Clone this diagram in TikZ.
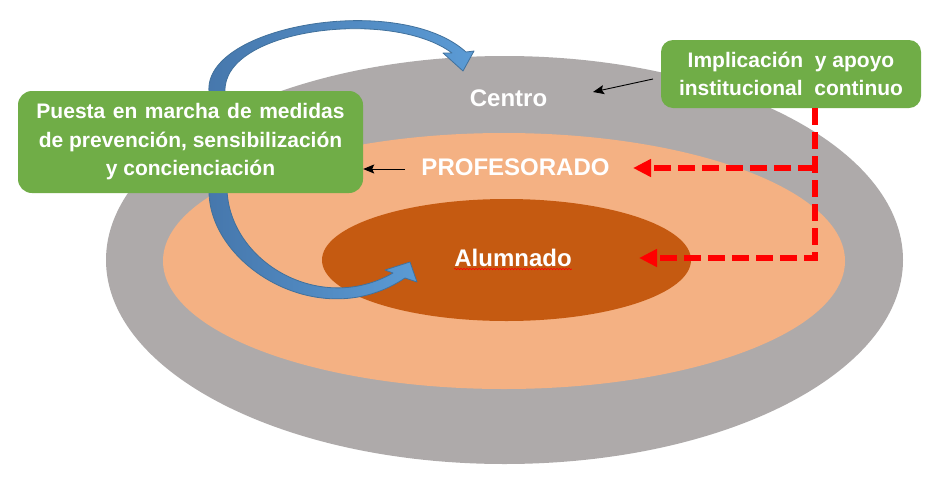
\documentclass[tikz,border=0pt]{standalone}
\usepackage{fontspec}
\setmainfont{Liberation Sans}
\usetikzlibrary{arrows.meta,decorations.pathmorphing}
\definecolor{grayE}{HTML}{AEAAAA}
\definecolor{peach}{HTML}{F4B183}
\definecolor{burnt}{HTML}{C55A11}
\definecolor{boxgreen}{HTML}{70AD47}
\definecolor{bluedark}{HTML}{4677AC}
\definecolor{bluelight}{HTML}{5B9BD5}
\definecolor{blueedge}{HTML}{41719C}
\definecolor{dashred}{HTML}{FF0000}
\begin{document}
\begin{tikzpicture}[x=1pt,y=-1pt,
  greenbox/.style={fill=boxgreen, rounded corners=14pt, text=white, align=center, inner sep=0pt,
    font=\fontsize{21}{28.5}\selectfont\bfseries},
  lbl/.style={text=white, inner sep=0pt, anchor=base, font=\fontsize{24}{28}\selectfont\bfseries},
  bluearrow/.style={left color=bluedark, middle color=bluedark, right color=bluelight, draw=blueedge, line width=0.8pt, line join=round},
  thinarrow/.style={draw=black, line width=0.9pt, -{Stealth[length=11pt,width=9pt,inset=2pt]}},
  reddash/.style={draw=dashred, line width=5.5pt, dash pattern=on 17pt off 7pt, -{Triangle[length=18pt,width=17pt]}}
]
\useasboundingbox (0,0) rectangle (932,480);
\fill[white] (0,0) rectangle (932,480);
% rings
\fill[grayE] (504.5,260) ellipse [x radius=398.5pt, y radius=204pt];
\fill[peach] (504,261) ellipse [x radius=341pt, y radius=128pt];
\fill[burnt] (506.5,260) ellipse [x radius=184.5pt, y radius=61pt];
% curved arrows
\shade[bluearrow] (209,112) -- (209,92) .. controls (203,25) and (400,-8) .. (466,52)
  -- (474,51) -- (463,71) -- (443,53) -- (452,53)
  .. controls (392,8) and (222,28) .. (225,92) -- (225,112) -- cycle;
\shade[bluearrow] (209,172) -- (209,190) .. controls (208,265) and (320,335) .. (405,278)
  -- (417,282) -- (410,262) -- (385,270) -- (393,273)
  .. controls (320,315) and (230,262) .. (227,190) -- (227,172) -- cycle;
% boxes
\node[greenbox, minimum width=345pt, minimum height=102pt] (lbox) at (190.5,142)
  {\spaceskip=0.36em\relax Puesta en marcha de medidas\\de prevención, sensibilización\\y concienciación};
\node[greenbox, minimum width=260pt, minimum height=68pt, rounded corners=12pt] (rbox) at (791,74)
  {Implicación\ \ y apoyo\\institucional\ \ continuo};
% labels
\node[lbl] (centro) at (508.5,106) {Centro};
\node[lbl] (prof) at (515.5,175) {PROFESORADO};
\node[lbl] (alum) at (513,266) {Alumnado};
\draw[dashred, line width=0.6pt, decorate, decoration={snake, amplitude=0.7pt, segment length=3pt}]
  ([yshift=-3pt]alum.base west) -- ([yshift=-3pt]alum.base east);
% thin black arrows
\coordinate (c1s) at (653,79);
\coordinate (c1e) at (593,92);
\draw[thinarrow] (c1s) -- (c1e);
\coordinate (c2s) at (405,169);
\draw[thinarrow] (c2s) -- (c2s -| lbox.east);
% red dashed arrows
\coordinate (rtop) at ([xshift=24pt]rbox.south);
\coordinate (rmid) at (815,168);
\coordinate (proftip) at (633,168);
\coordinate (alumtip) at (639,258);
\draw[reddash] (rtop) |- (alumtip);
\draw[reddash] (rmid) -- (proftip);
\end{tikzpicture}
\end{document}
